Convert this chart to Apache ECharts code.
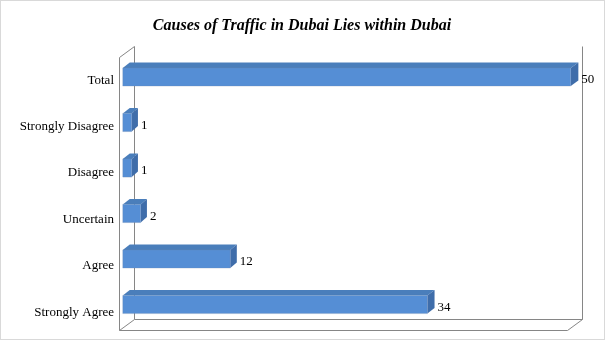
<!DOCTYPE html>
<html>
<head>
<meta charset="utf-8">
<script src="https://cdn.jsdelivr.net/npm/echarts@6/dist/echarts.min.js"></script>
<style>
html,body{margin:0;padding:0;background:#fff;}
#c{width:605px;height:340px;box-sizing:border-box;border:1px solid #d9d9d9;}
</style>
</head>
<body>
<div id="c"></div>
<script>
const categories = ['Strongly Agree', 'Agree', 'Uncertain', 'Disagree', 'Strongly Disagree', 'Total'];
const values = [34, 12, 2, 1, 1, 50];
const axisMax = 50;
const titleText = 'Causes of Traffic in Dubai Lies within Dubai';

const FRONT = '#558ED5', TOP = '#4A7EBB', SIDE = '#3F6DAA';
const WALL = '#868686';
const WDX = 15, WDY = -11;      // wall depth
const OX = 3.75, OY = -2.75;    // bar offset into depth

const chart = echarts.init(document.getElementById('c'), null, {renderer: 'canvas'});

function r(v) { return Math.round(v - 0.5) + 0.5; }

function renderFrame(params, api) {
  const cs = params.coordSys;
  const x = cs.x, y = cs.y, w = cs.width, h = cs.height;
  const segs = [
    [x, y, x, y + h],
    [x, y, x + WDX, y + WDY],
    [x + WDX, y + WDY, x + WDX, y + h + WDY],
    [x + WDX, y + h + WDY, x + w + WDX, y + h + WDY],
    [x + w + WDX, y + WDY, x + w + WDX, y + h + WDY],
    [x, y + h, x + w, y + h],
    [x + w, y + h, x + w + WDX, y + h + WDY],
    [x, y + h, x + WDX, y + h + WDY]
  ];
  return {
    type: 'group',
    children: segs.map(s => ({
      type: 'line',
      shape: {x1: r(s[0]), y1: r(s[1]), x2: r(s[2]), y2: r(s[3])},
      style: {stroke: WALL, lineWidth: 1}
    }))
  };
}

function renderBar(params, api) {
  const val = api.value(0);
  const cat = api.value(1);
  const p0 = api.coord([0, cat]);
  const p1 = api.coord([val, cat]);
  const band = api.size([0, 1])[1];
  const cs = params.coordSys;
  const h = band * 0.4;
  // slight perspective: depth grows toward the right
  const t = (p1[0] - cs.x) / cs.width;
  const bdx = 6.2 + 1.4 * t, bdy = -5.5;
  const x0 = p0[0] + OX, x1 = p1[0] + OX;
  const yc = p0[1] + OY;
  const yT = yc - h / 2, yB = yc + h / 2;
  return {
    type: 'group',
    children: [
      {type: 'polygon', shape: {points: [[x0, yT], [x1, yT], [x1 + bdx, yT + bdy], [x0 + 7, yT + bdy]]},
        style: {fill: TOP}},
      {type: 'polygon', shape: {points: [[x1, yT], [x1 + bdx, yT + bdy], [x1 + bdx, yB + bdy], [x1, yB]]},
        style: {fill: SIDE}},
      {type: 'rect', shape: {x: x0, y: yT, width: x1 - x0, height: h},
        style: {fill: FRONT, stroke: 'rgba(120,140,170,0.5)', lineWidth: 0.5}},
      {type: 'text', x: x1 + bdx + 3, y: p0[1],
        style: {text: String(val), fill: '#000', font: '13px "Liberation Serif"', verticalAlign: 'middle', align: 'left'}}
    ]
  };
}

chart.setOption({
  animation: false,
  backgroundColor: '#fff',
  title: {
    text: titleText,
    left: 296, top: 12, textAlign: 'center',
    textStyle: {fontFamily: 'Liberation Serif', fontSize: 16, fontWeight: 'bold', fontStyle: 'italic', color: '#000'}
  },
  grid: [
    {left: 118, right: 37, top: 56, bottom: 9, containLabel: false},
    {left: 118, right: 37, top: 56, height: 278.4, containLabel: false}
  ],
  xAxis: [
    {type: 'value', min: 0, max: axisMax, gridIndex: 0,
      axisLine: {show: false}, axisTick: {show: false}, axisLabel: {show: false}, splitLine: {show: false}},
    {type: 'value', min: 0, max: axisMax, gridIndex: 1, show: false}
  ],
  yAxis: [
    {type: 'category', data: categories, gridIndex: 0,
      axisLine: {show: false}, axisTick: {show: false}, splitLine: {show: false}, axisLabel: {show: false}},
    {type: 'category', data: categories, gridIndex: 1,
      axisLine: {show: false}, axisTick: {show: false}, splitLine: {show: false},
      axisLabel: {fontFamily: 'Liberation Serif', fontSize: 13, color: '#000', margin: 5}}
  ],
  series: [
    {type: 'custom', renderItem: renderFrame, data: [[0, 0]], encode: {x: 0, y: 1}, silent: true, z: 1},
    {type: 'custom', renderItem: renderBar, data: values.map((v, i) => [v, i]), encode: {x: 0, y: 1}, z: 2}
  ]
});
</script>
</body>
</html>
